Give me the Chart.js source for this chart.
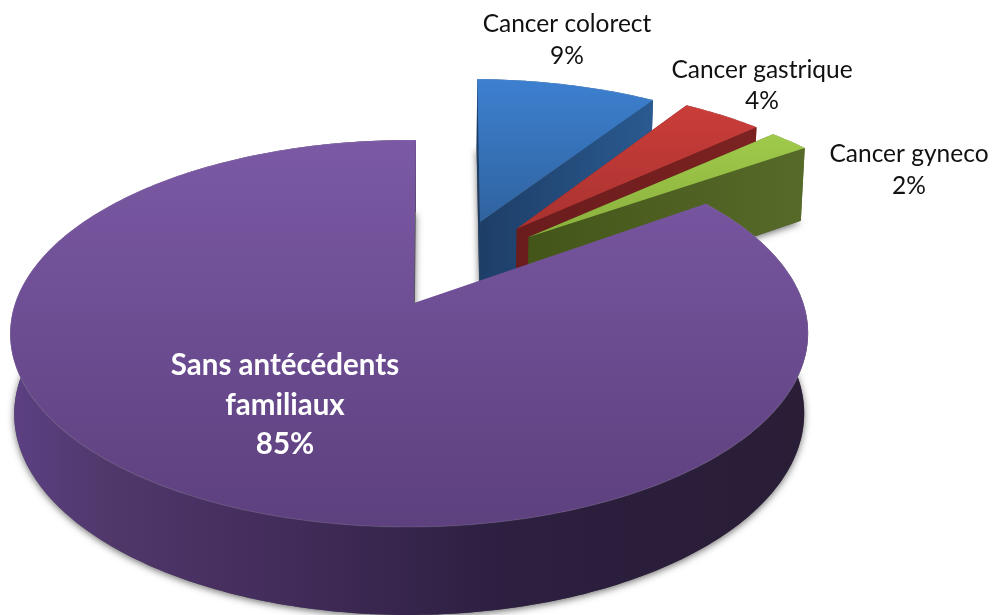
<!DOCTYPE html>
<html lang="fr">
<head>
<meta charset="UTF-8" />
<title>Antécédents familiaux</title>
<script src="https://cdn.jsdelivr.net/npm/chart.js@4/dist/chart.umd.js"></script>
<style>
  html, body { margin: 0; background: #fff; }
  canvas { display: block; }
</style>
</head>
<body>
<canvas id="pieChart" width="993" height="615"></canvas>
<script>
// data
const categories = ['Cancer colorect', 'Cancer gastrique', 'Cancer gyneco', 'Sans antécédents familiaux'];
const percents = [9, 4, 2, 85];

// how far each slice is pulled out, in pie radii (right, down)
const explodeRight = [0.18, 0.278, 0.32, -0.012];
const explodeDown = [-0.46, -0.42, -0.37, 0];
// the tips sit a little off the centre of their circle
const tipNudge = [0, 0, -0.012, 0.012];

// face colours: top of face, bottom of face
const topColors = [['#3d80d0', '#2f639f'], ['#ca3d39', '#a93230'], ['#9fca4a', '#8bb03e'], ['#7b59a5', '#5d407e']];
// wall colours, left to right
const wallColors = [
  [['#1d3d66', 0], ['#2a5a90', 1]],
  [['#6a1c1c', 0], ['#7c2222', 1]],
  [['#445519', 0], ['#566a29', 1]],
  [['#5c4084', 0], ['#50386b', 0.12], ['#422c5a', 0.35], ['#2c1f40', 0.62], ['#2a1d36', 1]]
];

// perspective of the pie's top plane
const cx = 414, cy = 303;
const radiusX = 394, radiusY = 188.7, tilt = 0.1576;
// base plane relative to the top plane
const baseScaleX = 0.99, baseScaleY = 1.04, baseDrop = 79;

function project(u, v, isBase) {
  const w = 1 - tilt * v;
  let x = radiusX * u / w;
  let y = radiusY * v / w;
  if (isBase) {
    x *= baseScaleX;
    y = y * baseScaleY + baseDrop;
  }
  return [cx + x, cy + y];
}

function rimPoints(arc, i, isBase) {
  const pts = [];
  const steps = Math.max(8, Math.round((arc.endAngle - arc.startAngle) * 60));
  for (let s = 0; s <= steps; s++) {
    const a = arc.startAngle + (arc.endAngle - arc.startAngle) * s / steps;
    pts.push(project(explodeRight[i] + Math.cos(a), explodeDown[i] + Math.sin(a), isBase));
  }
  return pts;
}

function tracePoly(ctx, pts) {
  ctx.beginPath();
  pts.forEach((p, k) => k ? ctx.lineTo(p[0], p[1]) : ctx.moveTo(p[0], p[1]));
  ctx.closePath();
}

function wallGradient(ctx, i, x0, x1) {
  const g = ctx.createLinearGradient(x0, 0, x1, 0);
  wallColors[i].forEach(c => g.addColorStop(c[1], c[0]));
  return g;
}

const pie3d = {
  id: 'pie3d',
  beforeDatasetDraw(chart, args) {
    const ctx = chart.ctx;
    const arcs = args.meta.data;
    arcs.forEach((arc, i) => {
      const top = rimPoints(arc, i, false);
      const base = rimPoints(arc, i, true);
      const apexTop = project(explodeRight[i] + tipNudge[i], explodeDown[i], false);
      const apexBase = project(explodeRight[i] + tipNudge[i], explodeDown[i], true);
      const xs = top.concat(base).map(p => p[0]);
      const minX = Math.min(...xs, apexTop[0]), maxX = Math.max(...xs, apexTop[0]);
      const fill = wallGradient(ctx, i, minX, maxX);

      // soft shadow round the foot of the slice
      ctx.save();
      ctx.shadowColor = 'rgba(0,0,0,0.55)';
      ctx.shadowBlur = 7;
      ctx.shadowOffsetY = 2;
      ctx.fillStyle = '#555';
      tracePoly(ctx, [apexBase].concat(base));
      ctx.fill();
      ctx.restore();

      ctx.fillStyle = fill;
      // inner walls
      if (i < arcs.length - 1) {
        tracePoly(ctx, [apexTop, top[0], base[0], apexBase]);
        ctx.fill();
        tracePoly(ctx, [apexTop, top[top.length - 1], base[base.length - 1], apexBase]);
        ctx.fill();
      }
      // outer wall
      tracePoly(ctx, top.concat(base.slice().reverse()));
      ctx.fill();

      // top face
      const ys = top.map(p => p[1]).concat(apexTop[1]);
      const g = ctx.createLinearGradient(0, Math.min(...ys), 0, Math.max(...ys));
      g.addColorStop(0, topColors[i][0]);
      g.addColorStop(1, topColors[i][1]);
      ctx.fillStyle = g;
      tracePoly(ctx, [apexTop].concat(top));
      ctx.fill();

      // light bevel along the rim
      ctx.beginPath();
      top.forEach((p, k) => k ? ctx.lineTo(p[0], p[1]) : ctx.moveTo(p[0], p[1]));
      ctx.strokeStyle = 'rgba(255,255,255,0.1)';
      ctx.lineWidth = 1.2;
      ctx.stroke();
    });
    return false; // the flat arcs are replaced by the faces above
  },
  afterDraw(chart) {
    const ctx = chart.ctx;
    ctx.save();
    ctx.textAlign = 'center';
    ctx.textBaseline = 'middle';
    ctx.fillStyle = '#111';
    ctx.font = '24.5px Lato';
    ctx.fillText(categories[0], 567, 24);
    ctx.fillText(percents[0] + '%', 567, 56);
    ctx.fillText(categories[1], 762, 70);
    ctx.fillText(percents[1] + '%', 762, 101);
    ctx.fillText(categories[2], 909, 154);
    ctx.fillText(percents[2] + '%', 909, 186);
    ctx.fillStyle = '#fff';
    ctx.font = 'bold 29.5px Lato';
    ctx.fillText('Sans antécédents', 285, 365);
    ctx.fillText('familiaux', 285, 405);
    ctx.fillText(percents[3] + '%', 285, 444);
    ctx.restore();
  }
};

new Chart(document.getElementById('pieChart'), {
  type: 'pie',
  data: {
    labels: categories,
    datasets: [{ data: percents, backgroundColor: topColors.map(c => c[0]), borderWidth: 0 }]
  },
  options: {
    responsive: false,
    animation: false,
    rotation: 1,
    plugins: { legend: { display: false }, tooltip: { enabled: false } }
  },
  plugins: [pie3d]
});
</script>
</body>
</html>
